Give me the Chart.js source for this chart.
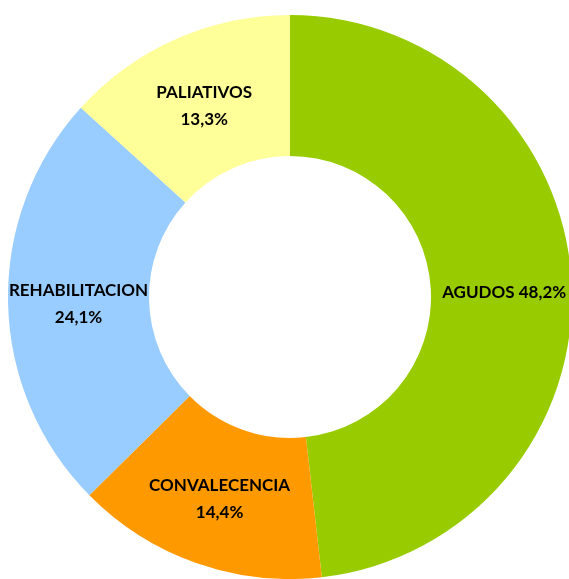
<!DOCTYPE html>
<html>
<head>
<meta charset="utf-8">
<script src="https://cdn.jsdelivr.net/npm/chart.js@4/dist/chart.umd.min.js"></script>
<style>
  html, body { margin: 0; padding: 0; background: #fff; overflow: hidden; }
  #wrap { position: absolute; left: 0; top: 0; width: 580px; height: 579px; }
</style>
</head>
<body>
<div id="wrap"><canvas id="c"></canvas></div>
<script>
const categories = ["AGUDOS", "CONVALECENCIA", "REHABILITACION", "PALIATIVOS"];
const values = [48.2, 14.4, 24.1, 13.3];
const valueLabels = ["48,2%", "14,4%", "24,1%", "13,3%"];
const colors = ["#99CC00", "#FF9900", "#99CCFF", "#FFFF99"];
const singleLine = [true, false, false, false];

const labelPlugin = {
  id: 'sliceLabels',
  afterDatasetsDraw(chart) {
    const ctx = chart.ctx;
    const meta = chart.getDatasetMeta(0);
    ctx.save();
    ctx.fillStyle = '#000';
    ctx.font = 'bold 17px Lato';
    ctx.textAlign = 'center';
    ctx.textBaseline = 'middle';
    meta.data.forEach((arc, i) => {
      const p = arc.tooltipPosition();
      if (singleLine[i]) {
        ctx.fillText(categories[i] + ' ' + valueLabels[i], p.x + 3, p.y + 7);
      } else {
        ctx.fillText(categories[i], p.x, p.y - 11);
        ctx.fillText(valueLabels[i], p.x, p.y + 16);
      }
    });
    ctx.restore();
  }
};

new Chart(document.getElementById('c'), {
  type: 'doughnut',
  data: {
    labels: categories,
    datasets: [{
      data: values,
      backgroundColor: colors,
      borderWidth: 0
    }]
  },
  options: {
    responsive: true,
    maintainAspectRatio: false,
    animation: false,
    cutout: '50%',
    layout: { padding: { left: 8, right: 8, top: 15, bottom: 0 } },
    plugins: { legend: { display: false }, tooltip: { enabled: false } }
  },
  plugins: [labelPlugin]
});
</script>
</body>
</html>
